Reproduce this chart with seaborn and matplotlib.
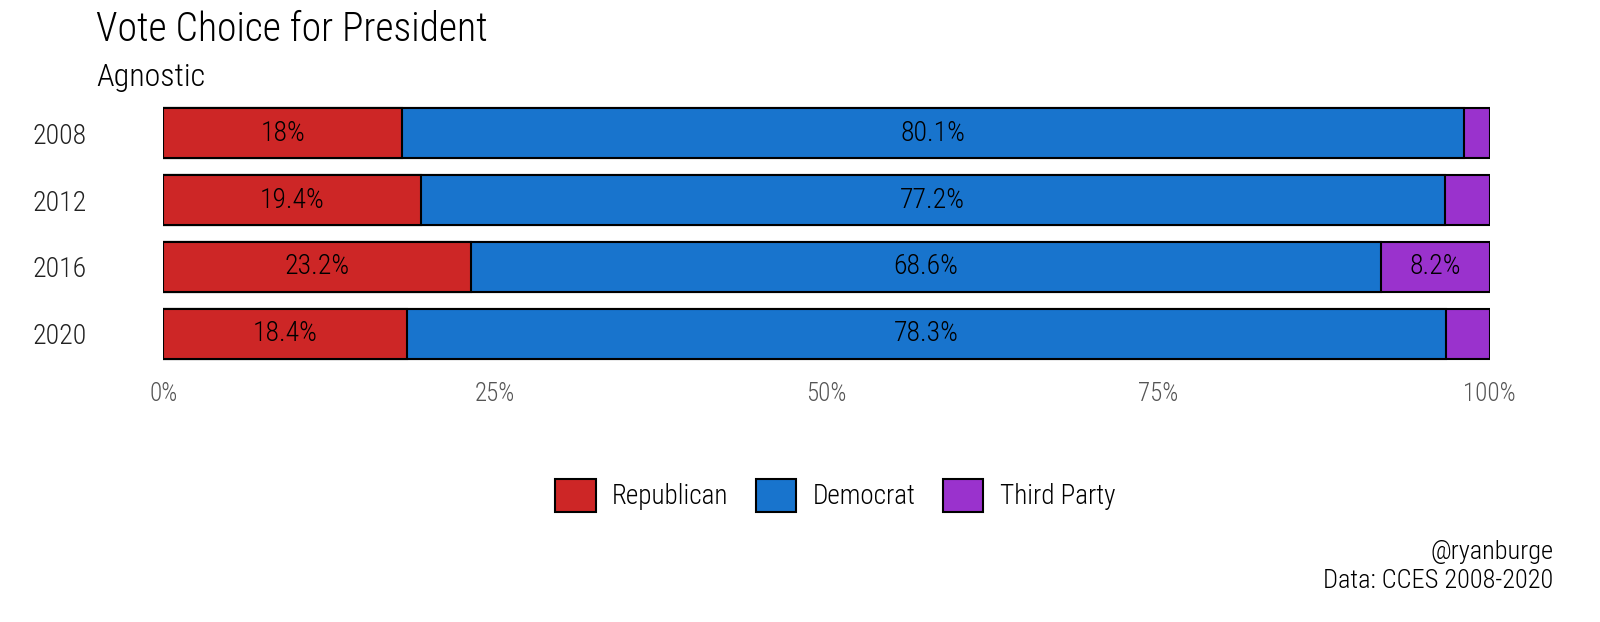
import numpy as np
import pandas as pd
import matplotlib
matplotlib.use("Agg")
import matplotlib.pyplot as plt
import seaborn as sns
from matplotlib.patches import Patch

years = ["2008", "2012", "2016", "2020"]
republican = [18.0, 19.4, 23.2, 18.4]
democrat = [80.1, 77.2, 68.6, 78.3]
third_party = [1.9, 3.4, 8.2, 3.3]

parties = ["Republican", "Democrat", "Third Party"]
colors = {"Republican": "#CD2626", "Democrat": "#1874CD", "Third Party": "#9A32CD"}

df = pd.DataFrame({"year": years, "Republican": republican,
                   "Democrat": democrat, "Third Party": third_party})
df["rep_end"] = df["Republican"] / 100
df["dem_end"] = (df["Republican"] + df["Democrat"]) / 100
df["tp_end"] = (df["Republican"] + df["Democrat"] + df["Third Party"]) / 100

sns.set_style("white")
plt.rcParams["font.family"] = ["Roboto Condensed", "Roboto", "DejaVu Sans"]
plt.rcParams["font.weight"] = "light"
plt.rcParams["text.color"] = "black"

fig = plt.figure(figsize=(16, 6.22), dpi=100)
ax = fig.add_axes([0.102, 0.399, 0.829, 0.451])

# stacked bars drawn back to front as cumulative totals
for col, party in [("tp_end", "Third Party"), ("dem_end", "Democrat"), ("rep_end", "Republican")]:
    sns.barplot(data=df, x=col, y="year", order=years, orient="h", color=colors[party],
                edgecolor="black", linewidth=1.5, width=0.75, saturation=1, ax=ax)

for i, row in df.iterrows():
    starts = [0, row["rep_end"], row["dem_end"]]
    for party, s in zip(parties, starts):
        v = row[party]
        if v > 5:
            ax.text(s + v / 200, i, f"{v:g}%", ha="center", va="center",
                    fontsize=20, color="black")

ax.set_xlim(0, 1)
ax.set_ylim(3.6, -0.6)
ax.set_xticks([0, 0.25, 0.5, 0.75, 1.0])
ax.set_xticklabels(["0%", "25%", "50%", "75%", "100%"], fontsize=18, color="#555555")
ax.tick_params(axis="y", labelsize=20, labelcolor="#222222", pad=94, length=0)
ax.tick_params(axis="x", length=0, pad=6)
for lbl in ax.get_yticklabels():
    lbl.set_horizontalalignment("left")
ax.set_xlabel("")
ax.set_ylabel("")
sns.despine(ax=ax, left=True, bottom=True)

fig.text(0.060, 0.952, "Vote Choice for President", fontsize=28.5, ha="left", va="center")
fig.text(0.060, 0.876, "Agnostic", fontsize=23, ha="left", va="center")

handles = [Patch(facecolor=colors[p], edgecolor="black", linewidth=1.5, label=p) for p in parties]
fig.legend(handles=handles, loc="center", bbox_to_anchor=(0.522, 0.204), ncol=3,
           frameon=False, fontsize=19.5, handlelength=1.5, handleheight=1.5,
           handletextpad=0.6, columnspacing=1.0)

fig.text(0.971, 0.112, "@ryanburge", fontsize=19, ha="right", va="center")
fig.text(0.971, 0.066, "Data: CCES 2008-2020", fontsize=19, ha="right", va="center")

fig.savefig("out.png", dpi=100)
